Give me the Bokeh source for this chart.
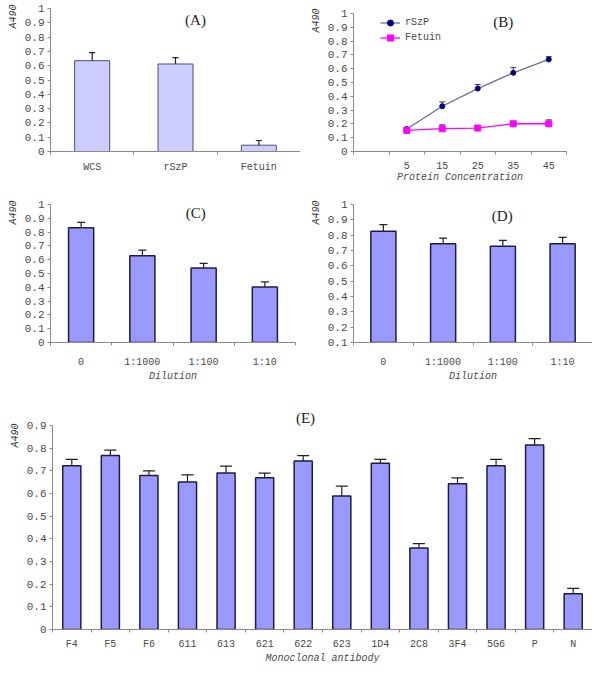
import math
from bokeh.plotting import figure
from bokeh.models import (ColumnDataSource, FixedTicker, Whisker, TeeHead, Label,
                          Legend, LegendItem, Range1d, NumeralTickFormatter)
from bokeh.layouts import column, row
from bokeh.embed import file_html
from bokeh.resources import INLINE

# ---------------- data ----------------
a_cats = ["WCS", "rSzP", "Fetuin"]
a_vals = [0.635, 0.612, 0.044]
a_errs = [0.056, 0.044, 0.033]

b_conc = ["5", "15", "25", "35", "45"]
b_rszp = [0.163, 0.328, 0.456, 0.570, 0.667]
b_rszp_err = [0.01, 0.031, 0.029, 0.037, 0.02]
b_fetuin = [0.153, 0.165, 0.170, 0.201, 0.201]
b_fetuin_err = [0.01, 0.029, 0.01, 0.017, 0.029]

dil_cats = ["0", "1:1000", "1:100", "1:10"]
c_vals = [0.831, 0.628, 0.539, 0.403]
c_errs = [0.039, 0.041, 0.034, 0.036]
d_vals = [0.825, 0.744, 0.727, 0.744]
d_errs = [0.044, 0.037, 0.039, 0.042]

e_cats = ["F4", "F5", "F6", "611", "613", "621", "622", "623", "1D4", "2C8",
          "3F4", "5G6", "P", "N"]
e_vals = [0.722, 0.767, 0.679, 0.651, 0.690, 0.669, 0.743, 0.589, 0.733, 0.359,
          0.643, 0.722, 0.814, 0.158]
e_errs = [0.028, 0.024, 0.021, 0.031, 0.031, 0.021, 0.024, 0.043, 0.017, 0.020,
          0.026, 0.028, 0.028, 0.023]

y_ticks_a = [0, 0.1, 0.2, 0.3, 0.4, 0.5, 0.6, 0.7, 0.8, 0.9, 1.0]
y_ticks_d = [0.1, 0.2, 0.3, 0.4, 0.5, 0.6, 0.7, 0.8, 0.9, 1.0]
y_ticks_e = [0, 0.1, 0.2, 0.3, 0.4, 0.5, 0.6, 0.7, 0.8, 0.9]
y_name_text = "A490"

# ---------------- style ----------------
MONO = "Liberation Mono"
SERIF = "Liberation Serif"
AXIS_GRAY = "#8a8a8a"
TEXT_GRAY = "#4a4a4a"
LIGHT_BAR = "#ccccff"
BAR = "#9999ff"
BAR_LINE = "#1e1e3c"


def base_fig(width, height, n_slots, y_start, y_end, y_ticks, y_top, mb, name_offset):
    left, right, top, bottom = mb
    p = figure(width=width, height=height, output_backend="svg", toolbar_location=None,
               tools="", x_range=Range1d(-0.5, n_slots - 0.5),
               y_range=Range1d(y_start, y_end), title=y_name_text, title_location="left",
               min_border_left=left, min_border_right=right,
               min_border_top=top, min_border_bottom=bottom)
    p.title.align = "right"
    p.title.offset = name_offset
    p.title.text_font = MONO
    p.title.text_font_style = "italic"
    p.title.text_font_size = "10px"
    p.title.text_color = "#333333"
    p.title.standoff = 6
    p.outline_line_color = None
    p.xgrid.visible = False
    p.ygrid.visible = False
    p.background_fill_color = "white"
    p.border_fill_color = "white"
    ya = p.yaxis[0]
    ya.ticker = FixedTicker(ticks=y_ticks)
    ya.formatter = NumeralTickFormatter(format="0.[0]")
    ya.bounds = (y_start, y_top)
    ya.axis_line_color = AXIS_GRAY
    ya.major_tick_line_color = AXIS_GRAY
    ya.major_tick_out = 3
    ya.major_tick_in = 0
    ya.minor_tick_line_color = None
    ya.major_label_text_font = MONO
    ya.major_label_text_font_size = "11px"
    ya.major_label_text_color = TEXT_GRAY
    ya.major_label_standoff = 3
    return p


def set_x_cats(p, labels, offset, n_slots, standoff, axis_label=None, label_standoff=0):
    xa = p.xaxis[0]
    centers = [i + offset for i in range(len(labels))]
    xa.ticker = FixedTicker(ticks=centers, minor_ticks=[b - 0.5 for b in range(n_slots + 1)])
    xa.major_label_overrides = {c: lab for c, lab in zip(centers, labels)}
    xa.axis_line_color = AXIS_GRAY
    xa.major_tick_line_color = None
    xa.major_tick_out = 0
    xa.major_tick_in = 0
    xa.minor_tick_line_color = AXIS_GRAY
    xa.minor_tick_out = 3
    xa.minor_tick_in = 0
    xa.major_label_text_font = MONO
    xa.major_label_text_font_size = "10px"
    xa.major_label_text_color = TEXT_GRAY
    xa.major_label_standoff = standoff
    if axis_label:
        xa.axis_label = axis_label
        xa.axis_label_text_font = MONO
        xa.axis_label_text_font_style = "italic"
        xa.axis_label_text_font_size = "10px"
        xa.axis_label_text_color = TEXT_GRAY
        xa.axis_label_standoff = label_standoff
    return centers


def bars(p, labels, vals, errs, offset, width, fill, line, lw, head, bottom=0.0):
    xs = [i + offset for i in range(len(labels))]
    src = ColumnDataSource(dict(x=xs, top=vals,
                                upper=[v + e for v, e in zip(vals, errs)]))
    p.vbar(x="x", top="top", bottom=bottom, width=width, source=src,
           fill_color=fill, line_color=line, line_width=lw)
    w = Whisker(base="x", lower="top", upper="upper", source=src, lower_head=None,
                upper_head=TeeHead(size=head, line_color="#222222", line_width=1.2),
                line_color="#222222", line_width=1.2, level="overlay")
    p.add_layout(w)


def panel_title(p, text, x, y):
    p.add_layout(Label(x=x, y=y, text=text, text_font=SERIF, text_font_size="15px",
                       text_color="#222222", text_align="center", text_baseline="middle"))


# ---------------- (A) ----------------
pa = base_fig(300, 185, len(a_cats), 0, 1.0, y_ticks_a, 1.0, (50, 0, 8, 33), -4)
set_x_cats(pa, a_cats, 0, len(a_cats), 7)
bars(pa, a_cats, a_vals, a_errs, 0, 0.42, LIGHT_BAR, "#505070", 1, 6)
panel_title(pa, "(A)", 1.24, 0.917)

# ---------------- (B) ----------------
nb = len(b_conc) + 1
pb = base_fig(292, 185, nb, 0, 1.036, y_ticks_a, 1.0, (53, 26, 8, 33), 0)
bx = set_x_cats(pb, b_conc, 1, nb, 7, "Protein Concentration", 0)
src_r = ColumnDataSource(dict(x=bx, y=b_rszp, upper=[v + e for v, e in zip(b_rszp, b_rszp_err)]))
src_f = ColumnDataSource(dict(x=bx, y=b_fetuin, upper=[v + e for v, e in zip(b_fetuin, b_fetuin_err)]))
pb.add_layout(Whisker(base="x", lower="y", upper="upper", source=src_r, lower_head=None,
                      upper_head=TeeHead(size=6, line_color="#333333", line_width=1),
                      line_color="#333333", line_width=1))
pb.add_layout(Whisker(base="x", lower="y", upper="upper", source=src_f, lower_head=None,
                      upper_head=TeeHead(size=6, line_color="#555555", line_width=1),
                      line_color="#555555", line_width=1))
l1 = pb.line("x", "y", source=src_r, line_color="#6e6e90", line_width=1.3)
s1 = pb.scatter("x", "y", source=src_r, marker="circle", size=5,
                fill_color="#000080", line_color="#000080")
l2 = pb.line("x", "y", source=src_f, line_color="#ff00ff", line_width=1.3)
s2 = pb.scatter("x", "y", source=src_f, marker="square", size=6,
                fill_color="#ff00ff", line_color="#ff00ff")
legend = Legend(items=[LegendItem(label="rSzP", renderers=[l1, s1]),
                       LegendItem(label="Fetuin", renderers=[l2, s2])],
                location=(27, 106), border_line_color=None, background_fill_alpha=0,
                padding=0, margin=0, spacing=0, glyph_width=20, glyph_height=15,
                label_height=15, label_standoff=5, label_text_font=MONO,
                label_text_font_size="10px", label_text_color=TEXT_GRAY)
pb.add_layout(legend)
panel_title(pb, "(B)", 3.72, 0.935)

# ---------------- (C) ----------------
pc = base_fig(300, 210, len(dil_cats), 0, 1.0, y_ticks_a, 1.0, (50, 5, 19, 53), -4)
set_x_cats(pc, dil_cats, 0, len(dil_cats), 11, "Dilution", 0)
bars(pc, dil_cats, c_vals, c_errs, 0, 0.41, BAR, BAR_LINE, 1.5, 8)
panel_title(pc, "(C)", 1.87, 0.935)

# ---------------- (D) ----------------
d_floor = y_ticks_d[0]
pd_ = base_fig(292, 210, len(dil_cats), d_floor, 1.0, y_ticks_d, 1.0, (53, 0, 19, 53), -4)
set_x_cats(pd_, dil_cats, 0, len(dil_cats), 11, "Dilution", 0)
bars(pd_, dil_cats, d_vals, d_errs, 0, 0.42, BAR, BAR_LINE, 1.5, 8, bottom=d_floor)
panel_title(pd_, "(D)", 1.99, 0.928)

# ---------------- (E) ----------------
pe = base_fig(592, 271, len(e_cats), 0, 0.988, y_ticks_e, 0.9, (52, 0, 10, 36), 18)
set_x_cats(pe, e_cats, 0, len(e_cats), 6, "Monoclonal antibody", 0)
bars(pe, e_cats, e_vals, e_errs, 0, 0.47, BAR, BAR_LINE, 1.5, 12)
panel_title(pe, "(E)", 6.06, 0.935)

layout = column(row(pa, pb), row(pc, pd_), pe)
open("out.html", "w").write(file_html(layout, INLINE))
